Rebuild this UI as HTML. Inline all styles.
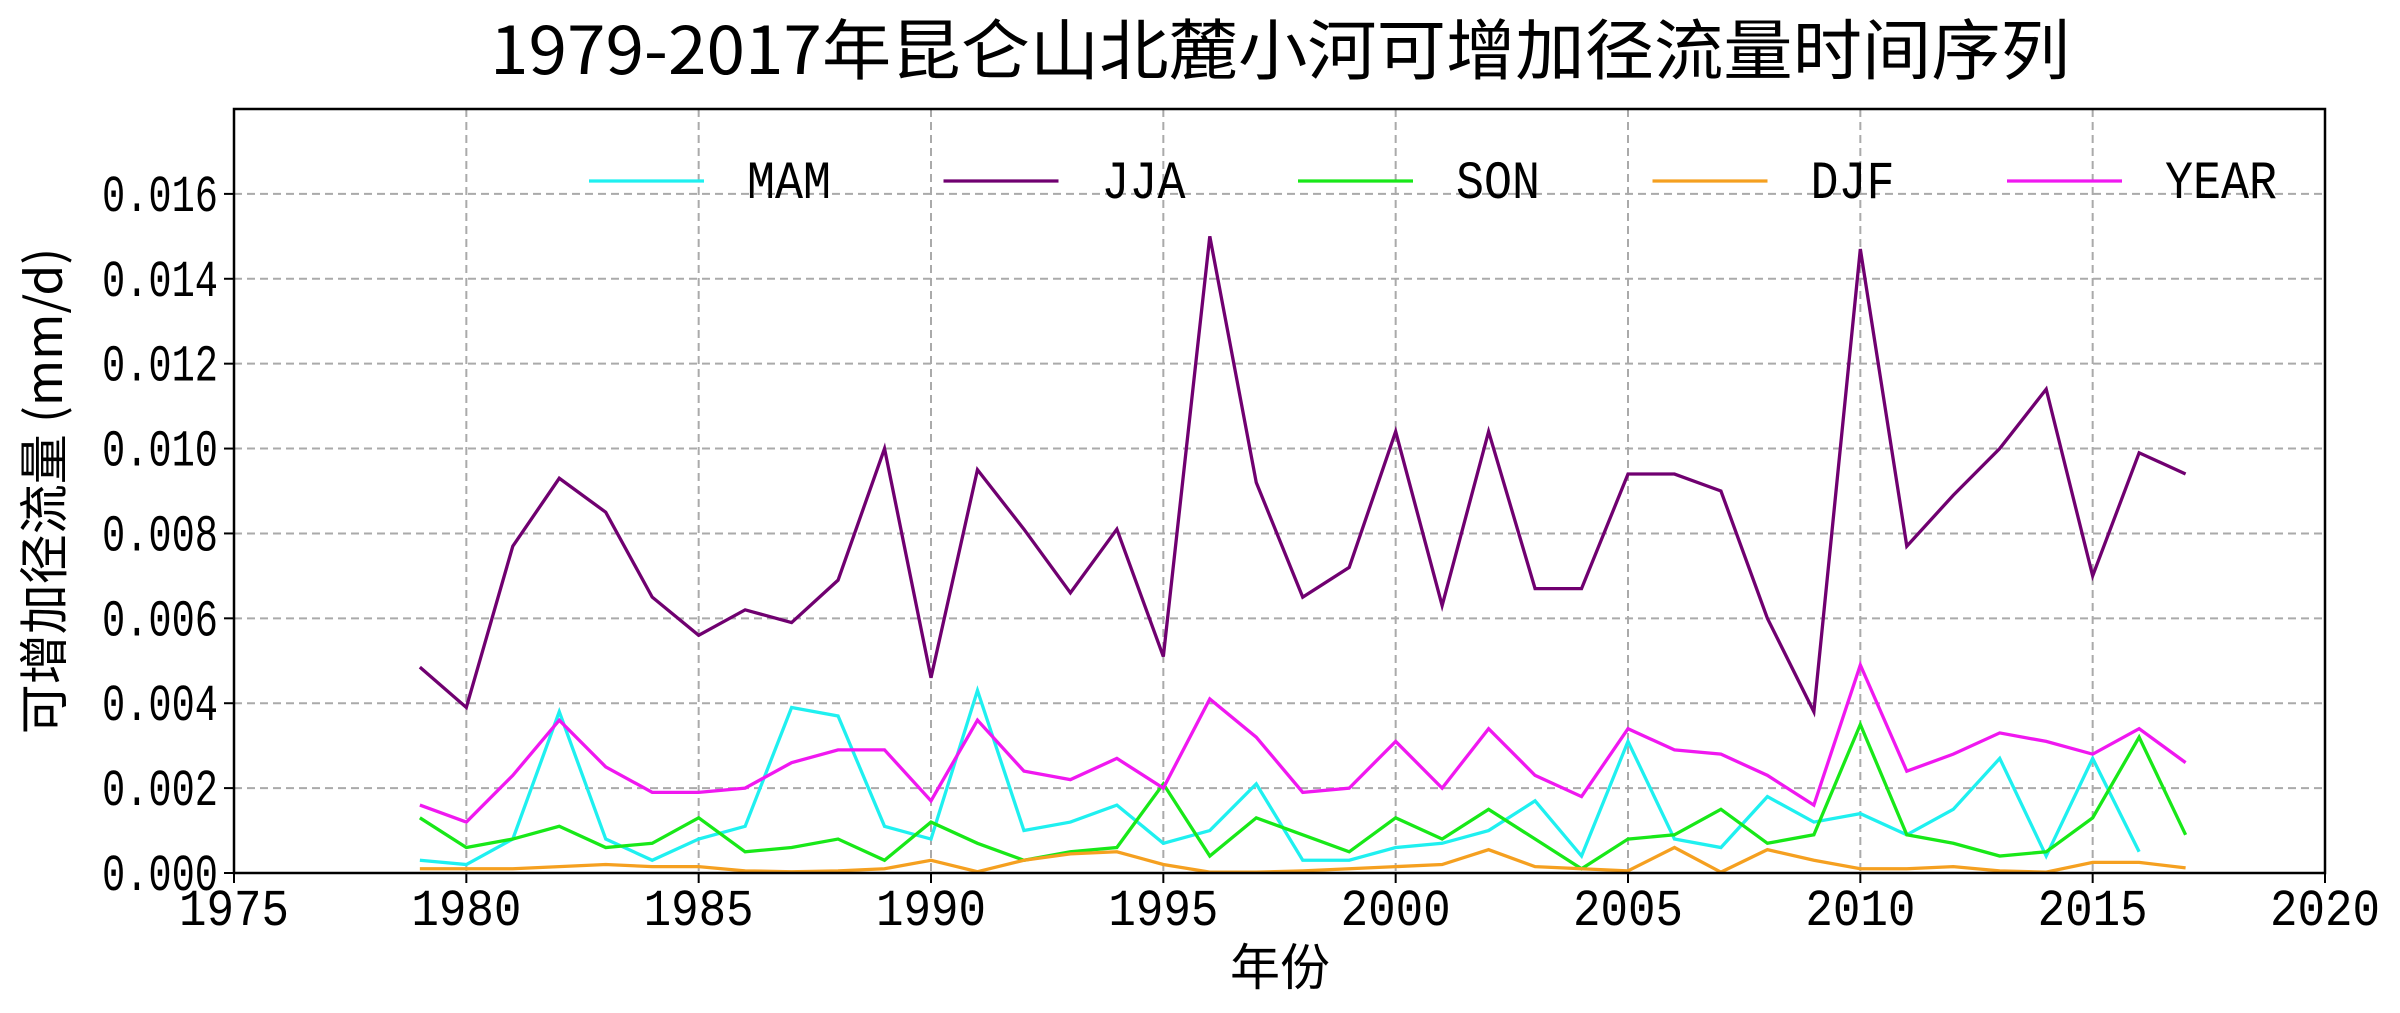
<!DOCTYPE html>
<html><head><meta charset="utf-8"><style>
html,body{margin:0;padding:0;background:#fff;}
svg{display:block;}
text{font-family:"Liberation Mono","Noto Sans CJK SC",monospace;}
</style></head><body>
<svg id="chart" width="2400" height="1013" xmlns="http://www.w3.org/2000/svg">
<text x="1280" y="74" text-anchor="middle" font-size="66" textLength="1580" lengthAdjust="spacingAndGlyphs" style="font-family:'Noto Sans CJK SC',sans-serif">1979-2017年昆仑山北麓小河可增加径流量时间序列</text>
<g id="grid"></g>
<g id="series"></g>
<rect x="234" y="109" width="2091" height="764" fill="none" stroke="#000" stroke-width="2.5"/>
<g id="ticks"></g>
<text x="1280" y="985" text-anchor="middle" font-size="50" style="font-family:'Noto Sans CJK SC',sans-serif">年份</text>
<text transform="translate(62,491) rotate(-90)" text-anchor="middle" font-size="50" style="font-family:'Noto Sans CJK SC',sans-serif">可增加径流量 (mm/d)</text>
<g id="legend"></g>
</svg>
<script>
const years=[];for(let y=1979;y<=2017;y++)years.push(y);
const mam=[.0003,.0002,.0008,.0038,.0008,.0003,.0008,.0011,.0039,.0037,.0011,.0008,.0043,.0010,.0012,.0016,.0007,.0010,.0021,.0003,.0003,.0006,.0007,.0010,.0017,.0004,.0031,.0008,.0006,.0018,.0012,.0014,.0009,.0015,.0027,.0004,.0027,.0005];
const jja=[.00485,.0039,.0077,.0093,.0085,.0065,.0056,.0062,.0059,.0069,.0100,.0046,.0095,.0081,.0066,.0081,.0051,.0150,.0092,.0065,.0072,.0104,.0063,.0104,.0067,.0067,.0094,.0094,.0090,.0060,.0038,.0147,.0077,.0089,.0100,.0114,.0070,.0099,.0094];
const son=[.0013,.0006,.0008,.0011,.0006,.0007,.0013,.0005,.0006,.0008,.0003,.0012,.0007,.0003,.0005,.0006,.0021,.0004,.0013,.0009,.0005,.0013,.0008,.0015,.0008,.0001,.0008,.0009,.0015,.0007,.0009,.0035,.0009,.0007,.0004,.0005,.0013,.0032,.0009];
const djf=[.0001,.0001,.0001,.00015,.0002,.00015,.00015,.00005,.00003,.00005,.0001,.0003,.00003,.0003,.00045,.0005,.0002,.00002,.00002,.00005,.0001,.00015,.0002,.00055,.00015,.0001,.00005,.0006,.00002,.00055,.0003,.0001,.0001,.00015,.00005,.00002,.00025,.00025,.00012];
const yearAll=[.0016,.0012,.0023,.0036,.0025,.0019,.0019,.0020,.0026,.0029,.0029,.0017,.0036,.0024,.0022,.0027,.0020,.0041,.0032,.0019,.0020,.0031,.0020,.0034,.0023,.0018,.0034,.0029,.0028,.0023,.0016,.0049,.0024,.0028,.0033,.0031,.0028,.0034,.0026];
const xTicks=[1975,1980,1985,1990,1995,2000,2005,2010,2015,2020];
const yTicks=[0,0.002,0.004,0.006,0.008,0.010,0.012,0.014,0.016];
const seriesNames=["MAM","JJA","SON","DJF","YEAR"];
const seriesColors=["#1ff0f0","#700070","#18e818","#f5a020","#f018f0"];
const seriesData=[mam,jja,son,djf,yearAll];

const L=234,R=2325,T=109,B=873;
const X=v=>L+(v-1975)/45*(R-L);
const Y=v=>B-v/0.018*(B-T);
const NS="http://www.w3.org/2000/svg";
function mk(tag,attrs,parent){const e=document.createElementNS(NS,tag);for(const k in attrs)e.setAttribute(k,attrs[k]);parent.appendChild(e);return e;}
const grid=document.getElementById('grid'),ticks=document.getElementById('ticks'),ser=document.getElementById('series'),leg=document.getElementById('legend');
xTicks.forEach(t=>{
 const x=X(t);
 if(t>1975&&t<2020){const g=mk('line',{x1:x,x2:x,y1:T,y2:B,stroke:'#aaa','stroke-width':2,'stroke-dasharray':'8,5'},grid);
 
 }
 const tk=mk('line',{x1:x,x2:x,y1:B,y2:B+10,stroke:'#000','stroke-width':2},ticks);
 
 
 const tx=mk('text',{x:x,y:B+52,'text-anchor':'middle','font-size':52,textLength:110,lengthAdjust:'spacingAndGlyphs'},ticks);tx.textContent=t;
 
 
});
yTicks.forEach(t=>{
 const y=Y(t);
 if(t>0){const g=mk('line',{x1:L,x2:R,y1:y,y2:y,stroke:'#aaa','stroke-width':2,'stroke-dasharray':'8,5'},grid);
 
 }
 const tk=mk('line',{x1:L-10,x2:L,y1:y,y2:y,stroke:'#000','stroke-width':2},ticks);
 
 
 const tx=mk('text',{x:L-16,y:y+17,'text-anchor':'end','font-size':52,textLength:116,lengthAdjust:'spacingAndGlyphs'},ticks);tx.textContent=t.toFixed(3);
 
 
});
seriesData.forEach((d,i)=>{
 const pts=d.map((v,j)=>X(years[j])+','+Y(v)).join(' ');
 const p=mk('polyline',{points:pts,fill:'none',stroke:seriesColors[i],'stroke-width':3.3,'stroke-linejoin':'miter'},ser);
 
 
 const lx=589+i*354.5;
 const ll=mk('line',{x1:lx,x2:lx+115,y1:181,y2:181,stroke:seriesColors[i],'stroke-width':3.3},leg);
 
 
 const lt=mk('text',{x:lx+158,y:198,'font-size':54,textLength:seriesNames[i].length*28,lengthAdjust:'spacingAndGlyphs'},leg);lt.textContent=seriesNames[i];
 
 
});
</script>
</body></html>
